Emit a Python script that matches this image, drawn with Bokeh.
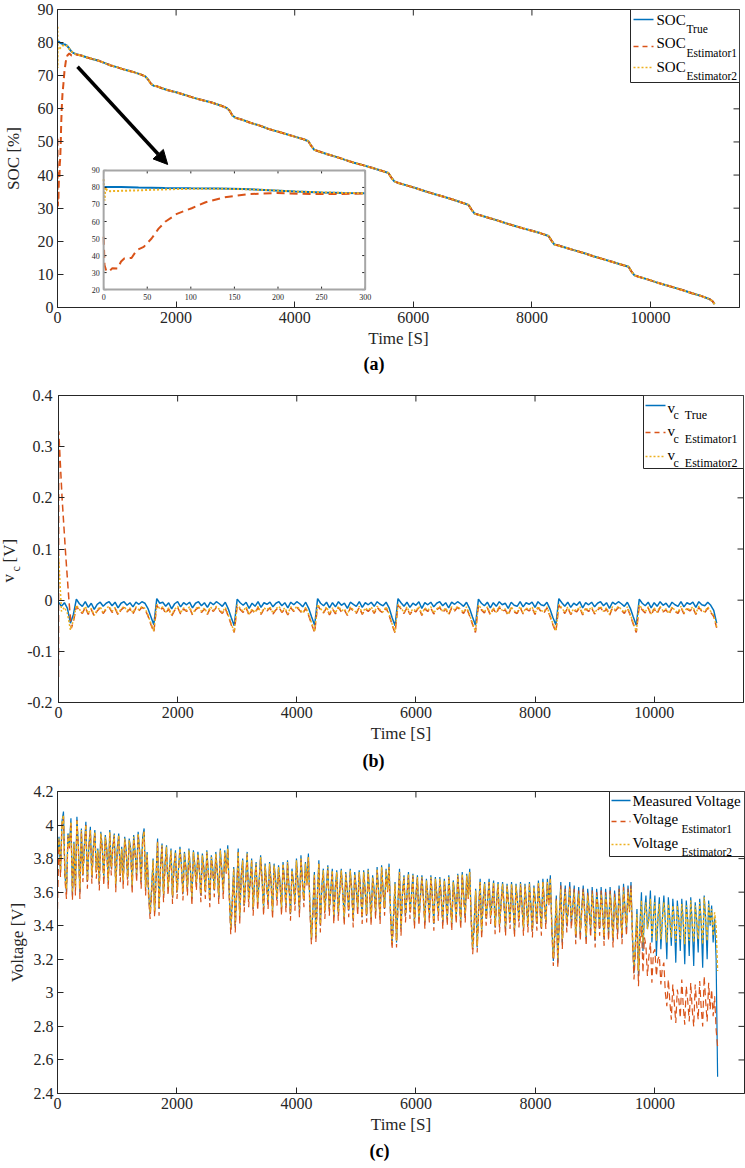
import math
from bokeh.plotting import figure
from bokeh.layouts import column, row
from bokeh.models import (Range1d, FixedTicker, Label, BoxAnnotation, Arrow, NormalHead, Title)
from bokeh.core.properties import value
from bokeh.embed import file_html
from bokeh.resources import INLINE

# ---------------------------------------------------------------- data
# (a) SOC [%] — first 300 s (also shown in the inset)
SOC_TRUE_HEAD_T = [0, 20, 40, 70, 100, 130, 160, 190, 220, 250, 275, 300]
SOC_TRUE_HEAD = [80.3, 80.3, 80.0, 79.7, 79.5, 79.4, 79.1, 78.4, 77.6, 77.1, 76.8, 76.6]
SOC_E1_HEAD_T = [0, 1, 3, 6, 10, 16, 20, 24, 32, 38, 46, 55, 63, 71, 84, 101, 117, 139, 166, 199, 237, 265, 300]
SOC_E1_HEAD = [51.0, 34.5, 31.0, 30.5, 32.6, 32.4, 36.5, 38.4, 38.6, 43.2, 45.1, 50.0, 55.8, 60.0, 64.5,
               67.8, 71.3, 74.2, 76.1, 76.7, 76.1, 76.1, 76.4]
SOC_E2_HEAD_T = [0, 1, 2, 4, 8, 20, 40, 60, 80, 100, 130, 160, 190, 220, 250, 275, 300]
SOC_E2_HEAD = [84.8, 72.3, 80.0, 78.2, 77.8, 78.0, 78.3, 78.7, 79.0, 79.2, 79.3, 79.0, 78.4, 77.6, 77.1, 76.8, 76.6]
# (a) SOC after 300 s (all three curves coincide)
SOC_TAIL_T = [400, 500, 600, 700, 800, 900, 1000, 1100, 1200, 1300, 1400, 1480, 1530, 1580, 1620, 1680,
              1750, 1850, 2000, 2150, 2300, 2450, 2600, 2750, 2850, 2900, 2950, 3000, 3100, 3250, 3400,
              3550, 3700, 3850, 4000, 4150, 4230, 4280, 4330, 4400, 4550, 4700, 4850, 5000, 5150, 5300,
              5450, 5580, 5630, 5680, 5750, 5900, 6050, 6200, 6350, 6500, 6650, 6800, 6930, 6980, 7030,
              7100, 7250, 7400, 7550, 7700, 7850, 8000, 8150, 8280, 8330, 8380, 8450, 8600, 8750, 8900,
              9050, 9200, 9350, 9500, 9630, 9680, 9730, 9800, 9950, 10100, 10250, 10400, 10550, 10700,
              10850, 11000, 11050, 11080]
SOC_TAIL = [76.1, 75.5, 75.0, 74.5, 73.8, 73.1, 72.6, 72.0, 71.5, 71.0, 70.4, 69.8, 68.8, 67.5, 67.0, 66.8,
            66.3, 65.7, 65.0, 64.2, 63.3, 62.6, 61.9, 61.0, 60.3, 59.5, 58.0, 57.3, 56.8, 55.8, 55.0,
            54.0, 53.2, 52.4, 51.6, 50.8, 50.2, 48.8, 47.6, 47.2, 46.3, 45.5, 44.6, 43.7, 43.0, 42.2,
            41.4, 40.6, 39.2, 38.1, 37.6, 36.8, 36.0, 35.1, 34.3, 33.5, 32.7, 31.8, 31.0, 29.6, 28.4,
            28.0, 27.2, 26.4, 25.5, 24.7, 23.9, 23.2, 22.4, 21.6, 20.2, 19.0, 18.7, 17.9, 17.1, 16.3,
            15.4, 14.6, 13.8, 13.0, 12.3, 10.8, 9.7, 9.3, 8.5, 7.6, 6.8, 6.0, 5.2, 4.3,
            3.5, 2.5, 1.8, 1.0]

# sample times [s] for (b)
T = [0, 50, 100, 150, 200, 250, 300, 350, 400, 450, 500, 550, 600, 650, 700, 750, 800, 850, 900, 950,
     1000, 1050, 1100, 1150, 1200, 1250, 1300, 1350, 1400, 1450, 1500, 1550, 1600, 1650, 1700, 1750, 1800, 1850, 1900, 1950,
     2000, 2050, 2100, 2150, 2200, 2250, 2300, 2350, 2400, 2450, 2500, 2550, 2600, 2650, 2700, 2750, 2800, 2850, 2900, 2950,
     3000, 3050, 3100, 3150, 3200, 3250, 3300, 3350, 3400, 3450, 3500, 3550, 3600, 3650, 3700, 3750, 3800, 3850, 3900, 3950,
     4000, 4050, 4100, 4150, 4200, 4250, 4300, 4350, 4400, 4450, 4500, 4550, 4600, 4650, 4700, 4750, 4800, 4850, 4900, 4950,
     5000, 5050, 5100, 5150, 5200, 5250, 5300, 5350, 5400, 5450, 5500, 5550, 5600, 5650, 5700, 5750, 5800, 5850, 5900, 5950,
     6000, 6050, 6100, 6150, 6200, 6250, 6300, 6350, 6400, 6450, 6500, 6550, 6600, 6650, 6700, 6750, 6800, 6850, 6900, 6950,
     7000, 7050, 7100, 7150, 7200, 7250, 7300, 7350, 7400, 7450, 7500, 7550, 7600, 7650, 7700, 7750, 7800, 7850, 7900, 7950,
     8000, 8050, 8100, 8150, 8200, 8250, 8300, 8350, 8400, 8450, 8500, 8550, 8600, 8650, 8700, 8750, 8800, 8850, 8900, 8950,
     9000, 9050, 9100, 9150, 9200, 9250, 9300, 9350, 9400, 9450, 9500, 9550, 9600, 9650, 9700, 9750, 9800, 9850, 9900, 9950,
     10000, 10050, 10100, 10150, 10200, 10250, 10300, 10350, 10400, 10450, 10500, 10550, 10600, 10650, 10700, 10750, 10800, 10850, 10900, 10950,
     11000, 11050]

# (b) v_c [V]
VC_TRUE = [-0.004, -0.012, -0.005, -0.016, -0.045, -0.028, 0.002,
           -0.007, -0.012, -0.003, -0.014, -0.006, -0.018, -0.008, -0.004, -0.012, -0.006, -0.003, -0.011, -0.004, -0.015, -0.006, -0.003, -0.010, -0.005, -0.013, -0.004, -0.008, -0.003, -0.006, -0.016,
           -0.032, -0.048, 0.003,
           -0.006, -0.004, -0.012, -0.005, -0.017, -0.007, -0.003, -0.013, -0.005, -0.009, -0.004, -0.015, -0.006, -0.003, -0.011, -0.005, -0.014, -0.004, -0.009, -0.003, -0.007, -0.012, -0.004, -0.017,
           -0.034, -0.050, 0.002,
           -0.005, -0.010, -0.004, -0.016, -0.006, -0.012, -0.003, -0.014, -0.005, -0.008, -0.004, -0.013, -0.006, -0.003, -0.011, -0.005, -0.015, -0.004, -0.009, -0.003, -0.007, -0.013, -0.004, -0.016,
           -0.033, -0.049, 0.003,
           -0.006, -0.011, -0.004, -0.015, -0.005, -0.013, -0.003, -0.010, -0.006, -0.016, -0.004, -0.008, -0.012, -0.003, -0.014, -0.005, -0.009, -0.004, -0.012, -0.003, -0.008, -0.011, -0.004, -0.015,
           -0.034, -0.050, 0.003,
           -0.005, -0.012, -0.004, -0.014, -0.006, -0.010, -0.003, -0.016, -0.005, -0.009, -0.004, -0.013, -0.006, -0.003, -0.011, -0.005, -0.015, -0.004, -0.008, -0.003, -0.007, -0.012, -0.004, -0.016,
           -0.033, -0.049, 0.002,
           -0.006, -0.011, -0.004, -0.015, -0.005, -0.012, -0.003, -0.009, -0.006, -0.016, -0.004, -0.010, -0.012, -0.003, -0.013, -0.005, -0.008, -0.004, -0.014, -0.003, -0.009, -0.011, -0.004, -0.017,
           -0.034, -0.048, 0.003,
           -0.005, -0.012, -0.004, -0.014, -0.006, -0.010, -0.003, -0.015, -0.005, -0.009, -0.004, -0.013, -0.006, -0.003, -0.011, -0.005, -0.016, -0.004, -0.008, -0.003, -0.007, -0.012, -0.004, -0.016,
           -0.033, -0.049, 0.002,
           -0.006, -0.011, -0.004, -0.015, -0.005, -0.012, -0.003, -0.010, -0.006, -0.014, -0.004, -0.009, -0.012, -0.003, -0.013, -0.005, -0.008, -0.004, -0.014, -0.003, -0.009, -0.011, -0.004, -0.010, -0.020, -0.045]
VC_E2 = [0.090, -0.022, -0.014, -0.026, -0.058, -0.040, -0.010,
         -0.018, -0.024, -0.012, -0.026, -0.016, -0.030, -0.019, -0.013, -0.024, -0.016, -0.012, -0.022, -0.014, -0.027, -0.017, -0.012, -0.021, -0.015, -0.025, -0.013, -0.019, -0.012, -0.016, -0.028,
         -0.045, -0.060, -0.008,
         -0.017, -0.013, -0.024, -0.015, -0.029, -0.018, -0.012, -0.025, -0.015, -0.020, -0.013, -0.027, -0.017, -0.012, -0.022, -0.015, -0.026, -0.013, -0.020, -0.012, -0.018, -0.024, -0.014, -0.029,
         -0.046, -0.062, -0.009,
         -0.016, -0.022, -0.013, -0.028, -0.017, -0.024, -0.012, -0.026, -0.015, -0.019, -0.013, -0.025, -0.017, -0.012, -0.022, -0.015, -0.027, -0.013, -0.020, -0.012, -0.018, -0.025, -0.014, -0.028,
         -0.045, -0.061, -0.008,
         -0.017, -0.023, -0.013, -0.027, -0.015, -0.025, -0.012, -0.021, -0.017, -0.028, -0.013, -0.019, -0.024, -0.012, -0.026, -0.015, -0.020, -0.013, -0.024, -0.012, -0.019, -0.023, -0.013, -0.027,
         -0.046, -0.062, -0.008,
         -0.015, -0.024, -0.013, -0.026, -0.017, -0.021, -0.012, -0.028, -0.015, -0.020, -0.013, -0.025, -0.017, -0.012, -0.022, -0.015, -0.027, -0.013, -0.019, -0.012, -0.018, -0.024, -0.013, -0.028,
         -0.045, -0.061, -0.009,
         -0.017, -0.023, -0.013, -0.027, -0.015, -0.024, -0.012, -0.020, -0.017, -0.028, -0.013, -0.021, -0.024, -0.012, -0.025, -0.015, -0.019, -0.013, -0.026, -0.012, -0.020, -0.023, -0.013, -0.029,
         -0.046, -0.060, -0.008,
         -0.015, -0.024, -0.013, -0.026, -0.017, -0.021, -0.012, -0.027, -0.015, -0.020, -0.013, -0.025, -0.017, -0.012, -0.022, -0.015, -0.028, -0.013, -0.019, -0.012, -0.018, -0.024, -0.013, -0.028,
         -0.045, -0.061, -0.009,
         -0.017, -0.023, -0.013, -0.027, -0.015, -0.024, -0.012, -0.021, -0.017, -0.026, -0.013, -0.020, -0.024, -0.012, -0.025, -0.015, -0.019, -0.013, -0.026, -0.012, -0.020, -0.023, -0.013, -0.022, -0.030, -0.052]
VC_E1_HEAD_T = [0, 4, 60, 120, 175, 215]
VC_E1_HEAD = [-0.150, 0.330, 0.200, 0.090, 0.000, -0.055]
VC_E1_TAIL = [-0.042, -0.012,
              -0.020, -0.026, -0.014, -0.028, -0.018, -0.031, -0.021, -0.015, -0.026, -0.018, -0.014, -0.024, -0.016, -0.029, -0.019, -0.014, -0.023, -0.017, -0.027, -0.015, -0.021, -0.014, -0.018, -0.030,
              -0.047, -0.062, -0.010,
              -0.019, -0.015, -0.026, -0.017, -0.031, -0.020, -0.014, -0.027, -0.017, -0.022, -0.015, -0.029, -0.019, -0.014, -0.024, -0.017, -0.028, -0.015, -0.022, -0.014, -0.020, -0.026, -0.016, -0.031,
              -0.048, -0.063, -0.011,
              -0.018, -0.024, -0.015, -0.030, -0.019, -0.026, -0.014, -0.028, -0.017, -0.021, -0.015, -0.027, -0.019, -0.014, -0.024, -0.017, -0.029, -0.015, -0.022, -0.014, -0.020, -0.027, -0.016, -0.030,
              -0.047, -0.063, -0.010,
              -0.019, -0.025, -0.015, -0.029, -0.017, -0.027, -0.014, -0.023, -0.019, -0.030, -0.015, -0.021, -0.026, -0.014, -0.028, -0.017, -0.022, -0.015, -0.026, -0.014, -0.021, -0.025, -0.015, -0.029,
              -0.048, -0.064, -0.010,
              -0.017, -0.026, -0.015, -0.028, -0.019, -0.023, -0.014, -0.030, -0.017, -0.022, -0.015, -0.027, -0.019, -0.014, -0.024, -0.017, -0.029, -0.015, -0.021, -0.014, -0.020, -0.026, -0.015, -0.030,
              -0.047, -0.063, -0.011,
              -0.019, -0.025, -0.015, -0.029, -0.017, -0.026, -0.014, -0.022, -0.019, -0.030, -0.015, -0.023, -0.026, -0.014, -0.027, -0.017, -0.021, -0.015, -0.028, -0.014, -0.022, -0.025, -0.015, -0.031,
              -0.048, -0.062, -0.010,
              -0.017, -0.026, -0.015, -0.028, -0.019, -0.023, -0.014, -0.029, -0.017, -0.022, -0.015, -0.027, -0.019, -0.014, -0.024, -0.017, -0.030, -0.015, -0.021, -0.014, -0.020, -0.026, -0.015, -0.030,
              -0.047, -0.063, -0.011,
              -0.019, -0.025, -0.015, -0.029, -0.017, -0.026, -0.014, -0.023, -0.019, -0.028, -0.015, -0.022, -0.026, -0.014, -0.027, -0.017, -0.021, -0.015, -0.028, -0.014, -0.022, -0.025, -0.015, -0.024, -0.032, -0.054]

# sample times [s] for (c)
T_V = [0, 25, 50, 75, 100, 125, 150, 175, 200, 225, 250, 275, 300, 325, 350, 375, 400, 425, 450, 475,
       500, 525, 550, 575, 600, 625, 650, 675, 700, 725, 750, 775, 800, 825, 850, 875, 900, 925, 950, 975,
       1000, 1025, 1050, 1075, 1100, 1125, 1150, 1175, 1200, 1225, 1250, 1275, 1300, 1325, 1350, 1375, 1400, 1425, 1450, 1475,
       1500, 1525, 1550, 1575, 1600, 1625, 1650, 1675, 1700, 1725, 1750, 1775, 1800, 1825, 1850, 1875, 1900, 1925, 1950, 1975,
       2000, 2025, 2050, 2075, 2100, 2125, 2150, 2175, 2200, 2225, 2250, 2275, 2300, 2325, 2350, 2375, 2400, 2425, 2450, 2475,
       2500, 2525, 2550, 2575, 2600, 2625, 2650, 2675, 2700, 2725, 2750, 2775, 2800, 2825, 2850, 2875, 2900, 2925, 2950, 2975,
       3000, 3025, 3050, 3075, 3100, 3125, 3150, 3175, 3200, 3225, 3250, 3275, 3300, 3325, 3350, 3375, 3400, 3425, 3450, 3475,
       3500, 3525, 3550, 3575, 3600, 3625, 3650, 3675, 3700, 3725, 3750, 3775, 3800, 3825, 3850, 3875, 3900, 3925, 3950, 3975,
       4000, 4025, 4050, 4075, 4100, 4125, 4150, 4175, 4200, 4225, 4250, 4275, 4300, 4325, 4350, 4375, 4400, 4425, 4450, 4475,
       4500, 4525, 4550, 4575, 4600, 4625, 4650, 4675, 4700, 4725, 4750, 4775, 4800, 4825, 4850, 4875, 4900, 4925, 4950, 4975,
       5000, 5025, 5050, 5075, 5100, 5125, 5150, 5175, 5200, 5225, 5250, 5275, 5300, 5325, 5350, 5375, 5400, 5425, 5450, 5475,
       5500, 5525, 5550, 5575, 5600, 5625, 5650, 5675, 5700, 5725, 5750, 5775, 5800, 5825, 5850, 5875, 5900, 5925, 5950, 5975,
       6000, 6025, 6050, 6075, 6100, 6125, 6150, 6175, 6200, 6225, 6250, 6275, 6300, 6325, 6350, 6375, 6400, 6425, 6450, 6475,
       6500, 6525, 6550, 6575, 6600, 6625, 6650, 6675, 6700, 6725, 6750, 6775, 6800, 6825, 6850, 6875, 6900, 6925, 6950, 6975,
       7000, 7025, 7050, 7075, 7100, 7125, 7150, 7175, 7200, 7225, 7250, 7275, 7300, 7325, 7350, 7375, 7400, 7425, 7450, 7475,
       7500, 7525, 7550, 7575, 7600, 7625, 7650, 7675, 7700, 7725, 7750, 7775, 7800, 7825, 7850, 7875, 7900, 7925, 7950, 7975,
       8000, 8025, 8050, 8075, 8100, 8125, 8150, 8175, 8200, 8225, 8250, 8275, 8300, 8325, 8350, 8375, 8400, 8425, 8450, 8475,
       8500, 8525, 8550, 8575, 8600, 8625, 8650, 8675, 8700, 8725, 8750, 8775, 8800, 8825, 8850, 8875, 8900, 8925, 8950, 8975,
       9000, 9025, 9050, 9075, 9100, 9125, 9150, 9175, 9200, 9225, 9250, 9275, 9300, 9325, 9350, 9375, 9400, 9425, 9450, 9475,
       9500, 9525, 9550, 9575, 9600, 9625, 9650, 9675, 9700, 9725, 9750, 9775, 9800, 9825, 9850, 9875, 9900, 9925, 9950, 9975,
       10000, 10025, 10050, 10075, 10100, 10125, 10150, 10175, 10200, 10225, 10250, 10275, 10300, 10325, 10350, 10375, 10400, 10425, 10450, 10475,
       10500, 10525, 10550, 10575, 10600, 10625, 10650, 10675, 10700, 10725, 10750, 10775, 10800, 10825, 10850, 10875, 10900, 10925, 10950, 10975,
       11000, 11025, 11050]

# (c) Voltage [V]
V_MEAS = [3.80, 3.93, 3.72, 4.02, 4.08, 3.70, 3.60, 3.95, 3.88, 4.04,
          3.58, 3.90, 3.62, 4.05, 3.87, 3.60, 3.98, 3.70, 3.88, 4.02,
          3.66, 3.88, 3.99, 3.69, 3.87, 3.97, 3.72, 3.86, 3.65, 3.96,
          3.87, 3.68, 3.94, 3.86, 3.66, 3.97, 3.74, 3.87, 3.95, 3.64,
          3.86, 3.95, 3.70, 3.87, 3.66, 3.93, 3.85, 3.68, 3.92, 3.86,
          3.63, 3.94, 3.84, 3.70, 3.96, 3.85, 3.66, 3.93, 3.98, 3.62,
          3.84, 3.60,
          3.47, 3.62, 3.80, 3.48, 3.70, 3.92, 3.50, 3.76, 3.89, 3.58,
          3.77, 3.88, 3.62, 3.75, 3.86, 3.57, 3.76, 3.85, 3.60, 3.74,
          3.87, 3.76, 3.59, 3.84, 3.75, 3.62, 3.86, 3.74, 3.56, 3.85,
          3.76, 3.65, 3.84, 3.74, 3.58, 3.83, 3.75, 3.60, 3.85, 3.72,
          3.55, 3.82, 3.74, 3.61, 3.84, 3.73, 3.57, 3.86, 3.74, 3.60,
          3.85, 3.73, 3.88, 3.60,
          3.38, 3.55, 3.75, 3.40, 3.62, 3.86, 3.45, 3.70, 3.80, 3.52,
          3.68, 3.84, 3.55, 3.67, 3.80, 3.50, 3.68, 3.78, 3.53, 3.67,
          3.82, 3.68, 3.50, 3.77, 3.66, 3.54, 3.78, 3.67, 3.48, 3.77,
          3.68, 3.56, 3.76, 3.66, 3.50, 3.78, 3.67, 3.52, 3.79, 3.64,
          3.47, 3.74, 3.66, 3.53, 3.80, 3.66, 3.49, 3.82, 3.67, 3.55,
          3.78, 3.66, 3.83, 3.52,
          3.32, 3.50, 3.72, 3.33, 3.58, 3.79, 3.40, 3.64, 3.74, 3.48,
          3.63, 3.76, 3.50, 3.62, 3.74, 3.45, 3.63, 3.73, 3.47, 3.62,
          3.74, 3.61, 3.44, 3.72, 3.62, 3.49, 3.74, 3.62, 3.43, 3.72,
          3.63, 3.50, 3.73, 3.61, 3.45, 3.73, 3.62, 3.46, 3.74, 3.60,
          3.44, 3.70, 3.62, 3.48, 3.75, 3.61, 3.45, 3.76, 3.62, 3.50,
          3.74, 3.62, 3.77, 3.48,
          3.29, 3.46, 3.66, 3.30, 3.55, 3.74, 3.38, 3.60, 3.70, 3.46,
          3.59, 3.72, 3.48, 3.58, 3.71, 3.42, 3.59, 3.70, 3.44, 3.58,
          3.70, 3.57, 3.42, 3.68, 3.58, 3.46, 3.70, 3.58, 3.41, 3.69,
          3.59, 3.47, 3.69, 3.57, 3.42, 3.68, 3.58, 3.44, 3.70, 3.56,
          3.41, 3.67, 3.58, 3.45, 3.71, 3.57, 3.42, 3.72, 3.58, 3.46,
          3.71, 3.58, 3.74, 3.45,
          3.26, 3.42, 3.62, 3.27, 3.51, 3.68, 3.36, 3.56, 3.66, 3.44,
          3.55, 3.68, 3.45, 3.55, 3.67, 3.39, 3.55, 3.66, 3.40, 3.54,
          3.66, 3.53, 3.38, 3.65, 3.54, 3.42, 3.66, 3.54, 3.37, 3.65,
          3.55, 3.43, 3.66, 3.53, 3.38, 3.65, 3.54, 3.40, 3.66, 3.52,
          3.37, 3.64, 3.54, 3.41, 3.67, 3.53, 3.38, 3.68, 3.54, 3.42,
          3.68, 3.54, 3.70, 3.40,
          3.19, 3.36, 3.58, 3.18, 3.45, 3.66, 3.30, 3.52, 3.64, 3.40,
          3.51, 3.66, 3.42, 3.51, 3.64, 3.33, 3.51, 3.63, 3.35, 3.50,
          3.64, 3.49, 3.32, 3.62, 3.50, 3.37, 3.63, 3.50, 3.31, 3.62,
          3.51, 3.38, 3.63, 3.49, 3.32, 3.62, 3.50, 3.35, 3.63, 3.48,
          3.31, 3.61, 3.50, 3.36, 3.64, 3.49, 3.33, 3.65, 3.50, 3.38,
          3.64, 3.50, 3.66, 3.34,
          3.12, 3.30, 3.50, 3.10, 3.40, 3.60, 3.25, 3.47, 3.58, 3.38,
          3.45, 3.61, 3.30, 3.45, 3.58, 3.22, 3.44, 3.57, 3.26, 3.44,
          3.58, 3.42, 3.20, 3.57, 3.44, 3.28, 3.56, 3.43, 3.18, 3.55,
          3.44, 3.25, 3.56, 3.42, 3.17, 3.55, 3.43, 3.22, 3.57, 3.41,
          3.16, 3.54, 3.43, 3.24, 3.56, 3.42, 3.15, 3.58, 3.44, 3.20,
          3.55, 3.40, 3.52, 3.30, 3.45, 3.20, 2.50]
V_E1 = [3.50, 3.91, 3.69, 4.00, 4.05, 3.67, 3.56, 3.93, 3.86, 4.02,
        3.55, 3.88, 3.58, 4.03, 3.85, 3.56, 3.96, 3.66, 3.86, 4.00,
        3.62, 3.86, 3.97, 3.65, 3.85, 3.95, 3.68, 3.84, 3.61, 3.94,
        3.85, 3.64, 3.92, 3.84, 3.62, 3.95, 3.70, 3.85, 3.93, 3.60,
        3.84, 3.93, 3.66, 3.85, 3.62, 3.91, 3.83, 3.64, 3.90, 3.84,
        3.59, 3.92, 3.82, 3.66, 3.94, 3.83, 3.62, 3.91, 3.96, 3.58,
        3.82, 3.56,
        3.44, 3.58, 3.78, 3.45, 3.66, 3.90, 3.46, 3.74, 3.87, 3.54,
        3.75, 3.86, 3.58, 3.73, 3.84, 3.53, 3.74, 3.83, 3.56, 3.72,
        3.85, 3.74, 3.55, 3.82, 3.73, 3.58, 3.84, 3.72, 3.52, 3.83,
        3.74, 3.61, 3.82, 3.72, 3.54, 3.81, 3.73, 3.56, 3.83, 3.70,
        3.51, 3.80, 3.72, 3.57, 3.82, 3.71, 3.53, 3.84, 3.72, 3.56,
        3.83, 3.71, 3.86, 3.56,
        3.35, 3.51, 3.73, 3.36, 3.58, 3.84, 3.41, 3.68, 3.78, 3.48,
        3.66, 3.82, 3.51, 3.65, 3.78, 3.46, 3.66, 3.76, 3.49, 3.65,
        3.80, 3.66, 3.46, 3.75, 3.64, 3.50, 3.76, 3.65, 3.44, 3.75,
        3.66, 3.52, 3.74, 3.64, 3.46, 3.76, 3.65, 3.48, 3.77, 3.62,
        3.43, 3.72, 3.64, 3.49, 3.78, 3.64, 3.45, 3.80, 3.65, 3.51,
        3.76, 3.64, 3.81, 3.48,
        3.29, 3.46, 3.70, 3.30, 3.54, 3.77, 3.36, 3.62, 3.72, 3.44,
        3.61, 3.74, 3.46, 3.60, 3.72, 3.41, 3.61, 3.71, 3.43, 3.60,
        3.72, 3.59, 3.40, 3.70, 3.60, 3.45, 3.72, 3.60, 3.39, 3.70,
        3.61, 3.46, 3.71, 3.59, 3.41, 3.71, 3.60, 3.42, 3.72, 3.58,
        3.40, 3.68, 3.60, 3.44, 3.73, 3.59, 3.41, 3.74, 3.60, 3.46,
        3.72, 3.60, 3.75, 3.44,
        3.26, 3.42, 3.64, 3.27, 3.51, 3.72, 3.34, 3.58, 3.68, 3.42,
        3.57, 3.70, 3.44, 3.56, 3.69, 3.38, 3.57, 3.68, 3.40, 3.56,
        3.68, 3.55, 3.38, 3.66, 3.56, 3.42, 3.68, 3.56, 3.37, 3.67,
        3.57, 3.43, 3.67, 3.55, 3.38, 3.66, 3.56, 3.40, 3.68, 3.54,
        3.37, 3.65, 3.56, 3.41, 3.69, 3.55, 3.38, 3.70, 3.56, 3.42,
        3.69, 3.56, 3.72, 3.41,
        3.23, 3.38, 3.60, 3.24, 3.47, 3.66, 3.32, 3.54, 3.64, 3.40,
        3.53, 3.66, 3.41, 3.53, 3.65, 3.35, 3.53, 3.64, 3.36, 3.52,
        3.64, 3.51, 3.34, 3.63, 3.52, 3.38, 3.64, 3.52, 3.33, 3.63,
        3.53, 3.39, 3.64, 3.51, 3.34, 3.63, 3.52, 3.36, 3.64, 3.50,
        3.33, 3.62, 3.52, 3.37, 3.65, 3.51, 3.34, 3.66, 3.52, 3.38,
        3.66, 3.52, 3.68, 3.36,
        3.16, 3.32, 3.56, 3.15, 3.41, 3.64, 3.26, 3.50, 3.62, 3.36,
        3.49, 3.64, 3.38, 3.49, 3.62, 3.29, 3.49, 3.61, 3.31, 3.48,
        3.62, 3.47, 3.28, 3.60, 3.48, 3.33, 3.61, 3.48, 3.27, 3.60,
        3.49, 3.34, 3.61, 3.47, 3.28, 3.60, 3.48, 3.31, 3.61, 3.46,
        3.27, 3.59, 3.48, 3.32, 3.62, 3.47, 3.29, 3.63, 3.48, 3.34,
        3.62, 3.48, 3.64, 3.30,
        3.08, 3.25, 3.45, 3.04, 3.30, 3.40, 3.12, 3.33, 3.28, 3.10,
        3.22, 3.30, 3.06, 3.24, 3.26, 3.10, 3.20, 3.22, 3.05, 3.15,
        3.18, 3.00, 2.92, 3.08, 2.95, 2.84, 3.05, 2.94, 2.82, 3.02,
        2.96, 2.85, 3.08, 2.92, 2.81, 3.04, 2.95, 2.83, 3.06, 2.90,
        2.80, 3.05, 2.93, 2.84, 3.07, 2.91, 2.80, 3.10, 2.95, 2.83,
        3.06, 2.90, 3.02, 2.86, 2.98, 2.78, 2.68]
V_E2 = [3.85, 3.92, 3.73, 4.01, 4.06, 3.71, 3.62, 3.94, 3.87, 4.02,
        3.60, 3.89, 3.63, 4.03, 3.86, 3.62, 3.97, 3.71, 3.87, 4.00,
        3.67, 3.87, 3.97, 3.70, 3.86, 3.96, 3.73, 3.85, 3.66, 3.95,
        3.86, 3.69, 3.93, 3.85, 3.67, 3.96, 3.75, 3.86, 3.94, 3.65,
        3.85, 3.94, 3.71, 3.86, 3.67, 3.92, 3.84, 3.69, 3.91, 3.85,
        3.64, 3.93, 3.83, 3.71, 3.95, 3.84, 3.67, 3.92, 3.96, 3.63,
        3.83, 3.61,
        3.48, 3.63, 3.79, 3.49, 3.71, 3.90, 3.51, 3.75, 3.88, 3.59,
        3.76, 3.87, 3.63, 3.74, 3.85, 3.58, 3.75, 3.84, 3.61, 3.73,
        3.86, 3.75, 3.60, 3.83, 3.74, 3.63, 3.85, 3.73, 3.57, 3.84,
        3.75, 3.66, 3.83, 3.73, 3.59, 3.82, 3.74, 3.61, 3.84, 3.71,
        3.56, 3.81, 3.73, 3.62, 3.83, 3.72, 3.58, 3.85, 3.73, 3.61,
        3.84, 3.72, 3.86, 3.61,
        3.39, 3.56, 3.74, 3.41, 3.63, 3.84, 3.46, 3.69, 3.79, 3.53,
        3.67, 3.83, 3.56, 3.66, 3.79, 3.51, 3.67, 3.77, 3.54, 3.66,
        3.81, 3.67, 3.51, 3.76, 3.65, 3.55, 3.77, 3.66, 3.49, 3.76,
        3.67, 3.57, 3.75, 3.65, 3.51, 3.77, 3.66, 3.53, 3.78, 3.63,
        3.48, 3.73, 3.65, 3.54, 3.79, 3.65, 3.50, 3.80, 3.66, 3.56,
        3.77, 3.65, 3.81, 3.53,
        3.33, 3.51, 3.71, 3.34, 3.59, 3.77, 3.41, 3.63, 3.73, 3.49,
        3.62, 3.75, 3.51, 3.61, 3.73, 3.46, 3.62, 3.72, 3.48, 3.61,
        3.73, 3.60, 3.45, 3.71, 3.61, 3.50, 3.73, 3.61, 3.44, 3.71,
        3.62, 3.51, 3.72, 3.60, 3.46, 3.72, 3.61, 3.47, 3.73, 3.59,
        3.45, 3.69, 3.61, 3.49, 3.74, 3.60, 3.46, 3.75, 3.61, 3.51,
        3.73, 3.61, 3.75, 3.49,
        3.30, 3.47, 3.65, 3.31, 3.56, 3.72, 3.39, 3.59, 3.69, 3.47,
        3.58, 3.71, 3.49, 3.57, 3.70, 3.43, 3.58, 3.69, 3.45, 3.57,
        3.69, 3.56, 3.43, 3.67, 3.57, 3.47, 3.69, 3.57, 3.42, 3.68,
        3.58, 3.48, 3.68, 3.56, 3.43, 3.67, 3.57, 3.45, 3.69, 3.55,
        3.42, 3.66, 3.57, 3.46, 3.70, 3.56, 3.43, 3.71, 3.57, 3.47,
        3.70, 3.57, 3.72, 3.46,
        3.27, 3.43, 3.61, 3.28, 3.52, 3.66, 3.37, 3.55, 3.65, 3.45,
        3.54, 3.66, 3.46, 3.54, 3.66, 3.40, 3.54, 3.65, 3.41, 3.53,
        3.65, 3.52, 3.39, 3.64, 3.53, 3.43, 3.65, 3.53, 3.38, 3.64,
        3.54, 3.44, 3.65, 3.52, 3.39, 3.64, 3.53, 3.41, 3.65, 3.51,
        3.38, 3.63, 3.53, 3.42, 3.66, 3.52, 3.39, 3.66, 3.53, 3.43,
        3.66, 3.53, 3.68, 3.41,
        3.21, 3.38, 3.55, 3.20, 3.47, 3.62, 3.32, 3.51, 3.60, 3.42,
        3.50, 3.62, 3.44, 3.50, 3.60, 3.35, 3.50, 3.59, 3.37, 3.49,
        3.60, 3.48, 3.34, 3.58, 3.49, 3.39, 3.59, 3.49, 3.33, 3.58,
        3.50, 3.40, 3.59, 3.48, 3.34, 3.58, 3.49, 3.37, 3.59, 3.47,
        3.33, 3.57, 3.49, 3.38, 3.60, 3.48, 3.35, 3.61, 3.49, 3.40,
        3.60, 3.49, 3.62, 3.36,
        3.16, 3.32, 3.47, 3.13, 3.40, 3.55, 3.30, 3.46, 3.54, 3.38,
        3.44, 3.56, 3.33, 3.44, 3.54, 3.31, 3.43, 3.53, 3.32, 3.43,
        3.54, 3.42, 3.30, 3.53, 3.43, 3.33, 3.52, 3.42, 3.30, 3.52,
        3.43, 3.32, 3.53, 3.42, 3.29, 3.52, 3.43, 3.31, 3.55, 3.41,
        3.30, 3.52, 3.43, 3.32, 3.54, 3.42, 3.29, 3.57, 3.44, 3.31,
        3.53, 3.41, 3.50, 3.34, 3.48, 3.40, 3.13]

# axes / ticks
X_TICKS = [0, 2000, 4000, 6000, 8000, 10000]
X_LIM = (0, 11500)
SOC_TICKS = [0, 10, 20, 30, 40, 50, 60, 70, 80, 90]
VC_TICKS = [-0.2, -0.1, 0, 0.1, 0.2, 0.3, 0.4]
VC_TICK_LABELS = ["-0.2", "-0.1", "0", "0.1", "0.2", "0.3", "0.4"]
V_TICKS = [2.4, 2.6, 2.8, 3, 3.2, 3.4, 3.6, 3.8, 4, 4.2]
V_TICK_LABELS = ["2.4", "2.6", "2.8", "3", "3.2", "3.4", "3.6", "3.8", "4", "4.2"]
INSET_XLIM = (0, 300)
INSET_YLIM = (20, 90)
INSET_XTICKS = [0, 50, 100, 150, 200, 250, 300]
INSET_YTICKS = [20, 30, 40, 50, 60, 70, 80, 90]

# ---------------------------------------------------------------- style
FONT = "Liberation Serif"
C_TRUE, C_E1, C_E2 = "#0072BD", "#D95319", "#EDB120"
AX = "#262626"
DASH, DOT = "7 4", "2 2"


def make_fig(fw, fh, left, right, top, bottom, ylim, yticks, ylabels=None):
    p = figure(frame_width=fw, frame_height=fh, x_range=Range1d(*X_LIM), y_range=Range1d(*ylim),
               output_backend="svg", toolbar_location=None,
               min_border_left=left, min_border_right=right, min_border_top=top, min_border_bottom=bottom,
               background_fill_color="white", border_fill_color="white")
    p.xgrid.visible = False
    p.ygrid.visible = False
    p.outline_line_color = AX
    p.xaxis.ticker = FixedTicker(ticks=X_TICKS)
    p.yaxis.ticker = FixedTicker(ticks=yticks)
    if ylabels is not None:
        p.yaxis.major_label_overrides = dict(zip(yticks, ylabels))
    for ax in (p.xaxis[0], p.yaxis[0]):
        ax.axis_line_color = AX
        ax.major_tick_line_color = AX
        ax.major_tick_in = 6
        ax.major_tick_out = 0
        ax.minor_tick_line_color = None
        ax.major_label_text_font = FONT
        ax.major_label_text_font_size = "16px"
        ax.major_label_text_color = AX
        ax.axis_label_text_font = FONT
        ax.axis_label_text_font_size = "17px"
        ax.axis_label_text_font_style = "normal"
        ax.axis_label_text_color = AX
    p.xaxis.major_label_standoff = 4
    p.xaxis.axis_label_standoff = 3
    p.xaxis.axis_label = "Time [S]"
    # inward ticks on the top and right edges of the box
    p.ray(x=X_TICKS, y=[ylim[1]] * len(X_TICKS), length=6, length_units="screen", angle=-math.pi / 2,
          line_color=AX, line_width=1)
    p.ray(x=[X_LIM[1]] * len(yticks), y=yticks, length=6, length_units="screen", angle=math.pi,
          line_color=AX, line_width=1)
    return p


def text(p, x, y, s, size, bold=False, angle=0.0, align="left", color=AX):
    p.add_layout(Label(x=x, y=y, x_units="screen", y_units="screen", text=s, text_font=FONT,
                       text_font_size=f"{size}px", text_color=color,
                       text_font_style="bold" if bold else "normal", angle=angle,
                       text_align=align, text_baseline="middle"))


def legend(p, box, entries):
    l, r, b, t = box
    p.add_layout(BoxAnnotation(left=l, right=r, bottom=b, top=t, left_units="screen", right_units="screen",
                               bottom_units="screen", top_units="screen", fill_color="white", fill_alpha=1.0,
                               line_color=AX, line_width=1, line_alpha=1.0))
    for (x0, x1, ly, color, dash, main, mx, my, msize, sub, sx, sy, ssize) in entries:
        p.add_layout(Arrow(x_start=x0, y_start=ly, x_end=x1, y_end=ly, start_units="screen",
                           end_units="screen", start=None, end=None, line_color=color,
                           line_width=1.5, line_dash=dash))
        text(p, mx, my, main, msize, color="#000000")
        if sub:
            text(p, sx, sy, sub, ssize, color="#000000")


def caption(p, s, offset, standoff):
    p.add_layout(Title(text=s, align="left", offset=offset, vertical_align="top", standoff=standoff,
                       text_font=FONT, text_font_size="18px", text_font_style="bold",
                       text_color="#000000"), "below")


# ---------------------------------------------------------------- (a)
pa = make_fig(682, 298, 56, 7, 9, 73, (0, 90), SOC_TICKS)
pa.yaxis.axis_label = "SOC [%]"
pa.yaxis.major_label_standoff = 4
pa.yaxis.axis_label_standoff = 12

pa.line(SOC_TRUE_HEAD_T + SOC_TAIL_T, SOC_TRUE_HEAD + SOC_TAIL, line_color=C_TRUE, line_width=2)
pa.line(SOC_E1_HEAD_T + SOC_TAIL_T, SOC_E1_HEAD + SOC_TAIL, line_color=C_E1, line_width=2, line_dash=DASH)
pa.line(SOC_E2_HEAD_T + SOC_TAIL_T, SOC_E2_HEAD + SOC_TAIL, line_color=C_E2, line_width=2, line_dash=DOT)

# inset: first 300 s, drawn through a sub-coordinate system
sub = pa.subplot(x_source=Range1d(*INSET_XLIM), y_source=Range1d(*INSET_YLIM),
                 x_target=Range1d(778, 5188), y_target=Range1d(5.4, 41.4))
sub.quad(left=[INSET_XLIM[0]], right=[INSET_XLIM[1]], bottom=[INSET_YLIM[0]], top=[INSET_YLIM[1]],
         fill_color="white", line_color=None)
sub.line(SOC_TRUE_HEAD_T, SOC_TRUE_HEAD, line_color=C_TRUE, line_width=2)
sub.line(SOC_E1_HEAD_T, SOC_E1_HEAD, line_color=C_E1, line_width=2, line_dash="8 5")
sub.line(SOC_E2_HEAD_T, SOC_E2_HEAD, line_color=C_E2, line_width=2, line_dash=DOT)
n_x, n_y = len(INSET_XTICKS), len(INSET_YTICKS)
sub.ray(x=INSET_XTICKS, y=[INSET_YLIM[0]] * n_x, length=3, length_units="screen", angle=math.pi / 2,
        line_color=AX, line_width=1)
sub.ray(x=INSET_XTICKS, y=[INSET_YLIM[1]] * n_x, length=3, length_units="screen", angle=-math.pi / 2,
        line_color=AX, line_width=1)
sub.ray(x=[INSET_XLIM[0]] * n_y, y=INSET_YTICKS, length=3, length_units="screen", angle=0,
        line_color=AX, line_width=1)
sub.ray(x=[INSET_XLIM[1]] * n_y, y=INSET_YTICKS, length=3, length_units="screen", angle=math.pi,
        line_color=AX, line_width=1)
sub.quad(left=[INSET_XLIM[0]], right=[INSET_XLIM[1]], bottom=[INSET_YLIM[0]], top=[INSET_YLIM[1]],
         fill_color=None, line_color="#a6a6a6", line_width=2)
sub.text(x=INSET_XTICKS, y=[INSET_YLIM[0]] * n_x, text=[str(v) for v in INSET_XTICKS],
         text_font=value(FONT), text_font_size="8px", text_color=AX, text_align="center",
         text_baseline="top", y_offset=4)
sub.text(x=[INSET_XLIM[0]] * n_y, y=INSET_YTICKS, text=[str(v) for v in INSET_YTICKS],
         text_font=value(FONT), text_font_size="8px", text_color=AX, text_align="right",
         text_baseline="middle", x_offset=-4)

pa.add_layout(Arrow(x_start=338, y_start=72.7, x_end=1858, y_end=43.2, line_color="black", line_width=3.5,
                    end=NormalHead(size=14, fill_color="black", line_color="black")))

legend(pa, (573, 682, 225, 298), [
    (576, 596, 288, C_TRUE, "solid", "SOC", 599, 288, 15, "True", 629, 278.5, 11.5),
    (576, 596, 261, C_E1, "5 4", "SOC", 599, 265, 15, "Estimator1", 629, 255, 11.5),
    (576, 596, 240, C_E2, DOT, "SOC", 599, 241, 15, "Estimator2", 629, 232, 11.5),
])
caption(pa, "(a)", 306, 6)

# ---------------------------------------------------------------- (b)
STRIP_W = 24
pb = make_fig(685, 307, 58 - STRIP_W, 2, 15, 78, (-0.2, 0.4), VC_TICKS, VC_TICK_LABELS)
pb.yaxis.major_label_standoff = 6
pb.line(T, VC_TRUE, line_color=C_TRUE, line_width=1.5)
pb.line(VC_E1_HEAD_T + T[5:], VC_E1_HEAD + VC_E1_TAIL, line_color=C_E1, line_width=1.5, line_dash=DASH)
pb.line(T, VC_E2, line_color=C_E2, line_width=1.5, line_dash=DOT)
legend(pb, (585, 685, 234, 307), [
    (587, 607, 297, C_TRUE, "solid", "v", 609, 295, 15, "c\u00a0\u00a0True", 615, 288, 12),
    (587, 607, 270, C_E1, "5 4", "v", 609, 272, 15, "c\u00a0\u00a0Estimator1", 615, 264, 12),
    (587, 607, 246, C_E2, DOT, "v", 609, 248, 15, "c\u00a0\u00a0Estimator2", 615, 240, 12),
])
caption(pb, "(b)", 304, 11)

# y-axis title of (b) with its subscript, in a narrow strip left of the axis
strip = figure(frame_width=STRIP_W, frame_height=400, x_range=Range1d(0, 1), y_range=Range1d(0, 1),
               x_axis_type=None, y_axis_type=None, output_backend="svg", toolbar_location=None,
               min_border_left=0, min_border_right=0, min_border_top=0, min_border_bottom=0,
               outline_line_color=None, background_fill_color="white", border_fill_color="white")
strip.grid.visible = False
text(strip, 8, 213, "v", 17, angle=math.pi / 2)
text(strip, 15.5, 224, "c", 12, angle=math.pi / 2)
text(strip, 9, 233, "[V]", 17, angle=math.pi / 2)

# ---------------------------------------------------------------- (c)
pc = make_fig(687, 302, 51, 7, 11, 75, (2.4, 4.2), V_TICKS, V_TICK_LABELS)
pc.yaxis.axis_label = "Voltage [V]"
pc.yaxis.major_label_standoff = 4
pc.yaxis.axis_label_standoff = 4
pc.line(T_V, V_MEAS, line_color=C_TRUE, line_width=1.2)
pc.line(T_V, V_E1, line_color=C_E1, line_width=1.2, line_dash=DASH)
pc.line(T_V, V_E2, line_color=C_E2, line_width=1.4, line_dash="3 2")
legend(pc, (552, 687, 237, 302), [
    (554, 573, 293, C_TRUE, "solid", "Measured Voltage", 575, 293, 15, "", 0, 0, 0),
    (554, 573, 272, C_E1, "5 4", "Voltage", 575, 275, 15, "Estimator1", 624, 265, 11.5),
    (554, 573, 249, C_E2, DOT, "Voltage", 575, 251, 15, "Estimator2", 624, 242, 11.5),
])
caption(pc, "(c)", 312, 8)

layout = column(pa, row(strip, pb, spacing=0), pc, spacing=0)
open("out.html", "w").write(file_html(layout, INLINE))
